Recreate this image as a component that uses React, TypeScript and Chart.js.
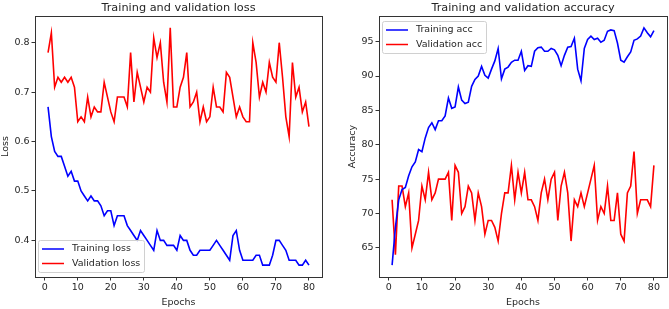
import React, { useEffect, useRef } from 'react';
import { Chart, registerables } from 'chart.js';
Chart.register(...registerables);

const epochs = Array.from({ length: 80 }, (_, i) => i + 1);

const trainingLoss = [
  0.67, 0.61, 0.58, 0.57, 0.57, 0.55, 0.53, 0.54, 0.52, 0.52,
  0.50, 0.49, 0.48, 0.49, 0.48, 0.48, 0.47, 0.45, 0.46, 0.46,
  0.43, 0.45, 0.45, 0.45, 0.43, 0.42, 0.41, 0.40, 0.42, 0.41,
  0.40, 0.39, 0.38, 0.42, 0.40, 0.40, 0.39, 0.39, 0.39, 0.38,
  0.41, 0.40, 0.40, 0.38, 0.37, 0.37, 0.38, 0.38, 0.38, 0.38,
  0.39, 0.40, 0.39, 0.38, 0.37, 0.36, 0.41, 0.42, 0.38, 0.36,
  0.36, 0.36, 0.36, 0.37, 0.37, 0.35, 0.35, 0.35, 0.37, 0.40,
  0.40, 0.39, 0.38, 0.36, 0.36, 0.36, 0.35, 0.35, 0.36, 0.35,
];

const validationLoss = [
  0.78, 0.82, 0.71, 0.73, 0.72, 0.73, 0.72, 0.73, 0.71, 0.64,
  0.65, 0.64, 0.69, 0.65, 0.67, 0.66, 0.66, 0.72, 0.69, 0.66,
  0.64, 0.69, 0.69, 0.69, 0.67, 0.78, 0.68, 0.74, 0.71, 0.68,
  0.71, 0.70, 0.81, 0.77, 0.80, 0.72, 0.68, 0.83, 0.67, 0.67,
  0.71, 0.73, 0.78, 0.67, 0.68, 0.70, 0.64, 0.67, 0.64, 0.65,
  0.71, 0.67, 0.67, 0.66, 0.74, 0.73, 0.69, 0.65, 0.67, 0.65,
  0.64, 0.64, 0.80, 0.76, 0.69, 0.72, 0.70, 0.76, 0.73, 0.72,
  0.80, 0.73, 0.65, 0.61, 0.76, 0.69, 0.71, 0.66, 0.68, 0.63,
];

const trainingAcc = [
  62.5, 68.0, 72.0, 73.5, 73.8, 75.5, 76.8, 77.5, 79.3, 79.0,
  81.0, 82.5, 83.2, 82.2, 83.5, 83.5, 84.2, 86.8, 85.3, 85.5,
  88.4, 86.5, 86.0, 86.2, 88.5, 89.5, 90.0, 91.4, 90.1, 89.7,
  91.0, 92.2, 94.0, 89.6, 91.0, 91.3, 92.0, 92.3, 92.3, 93.6,
  90.8, 91.5, 91.4, 93.6, 94.1, 94.2, 93.6, 93.6, 94.0, 93.8,
  93.0, 91.5, 93.0, 94.2, 94.3, 95.5, 91.0, 89.3, 94.0, 95.3,
  95.8, 95.3, 95.5, 94.9, 95.2, 96.5, 96.7, 96.6, 94.8, 92.3,
  92.0, 92.8, 93.5, 95.2, 95.4, 95.8, 97.0, 96.3, 95.7, 96.6,
];

const validationAcc = [
  72, 64, 74, 74, 71, 73, 65, 67, 69, 74,
  72, 76, 72, 73, 75, 75, 75, 76, 69, 77,
  76, 70, 71, 74, 73, 69, 73, 71, 67, 69,
  69, 68, 66, 70, 73, 73, 77, 72, 76, 73,
  76, 72, 72, 71, 69, 73, 75, 72, 75, 76,
  69, 74, 76, 73, 66, 72, 71, 73, 71, 73,
  75, 77, 69, 71, 70, 74, 69, 69, 73, 67,
  66, 73, 74, 79, 70, 72, 72, 72, 71, 77,
];

const epochTicks = [0, 10, 20, 30, 40, 50, 60, 70, 80];
const lossTicks = [0.4, 0.5, 0.6, 0.7, 0.8];
const accTicks = [65, 70, 75, 80, 85, 90, 95];

const FONT = 'DejaVu Sans';
const TEXT = '#262626';

type Series = { label: string; data: number[]; color: string };

function makeConfig(opts: {
  title: string;
  yLabel: string;
  series: Series[];
  yTicks: number[];
  yMin: number;
  yMax: number;
  legend: 'lowerLeft' | 'upperLeft';
  yAxisWidth: number;
  yTitlePad: number;
  padRight: number;
  yFmt: (v: number) => string;
}): any {
  const framePlugin = {
    id: 'frame',
    afterDatasetsDraw(chart: any) {
      const { ctx, chartArea: a } = chart;
      ctx.save();
      ctx.strokeStyle = '#333';
      ctx.lineWidth = 1;
      ctx.strokeRect(Math.round(a.left) + 0.5, Math.round(a.top) + 0.5, Math.round(a.right - a.left), Math.round(a.bottom - a.top));
      ctx.restore();
    },
  };
  const titlePlugin = {
    id: 'mtitle',
    afterDraw(chart: any) {
      const { ctx, chartArea: a } = chart;
      ctx.save();
      ctx.font = `11.3px "${FONT}"`;
      ctx.fillStyle = TEXT;
      ctx.textAlign = 'center';
      ctx.textBaseline = 'middle';
      ctx.fillText(opts.title, (a.left + a.right) / 2, a.top - 8);
      ctx.restore();
    },
  };
  const legendPlugin = {
    id: 'mlegend',
    afterDraw(chart: any) {
      const { ctx, chartArea: a } = chart;
      ctx.save();
      ctx.font = `9.5px "${FONT}"`;
      const ds = chart.data.datasets;
      let tw = 0;
      ds.forEach((d: any) => { tw = Math.max(tw, ctx.measureText(d.label).width); });
      const w = Math.round(34 + tw + 4);
      const h = 32;
      const x = Math.round(a.left) + 3;
      const y = opts.legend === 'lowerLeft' ? Math.round(a.bottom) - 5 - h : Math.round(a.top) + 5;
      ctx.fillStyle = 'rgba(255,255,255,0.8)';
      ctx.strokeStyle = '#d0d0d0';
      ctx.lineWidth = 1;
      ctx.beginPath();
      (ctx as any).roundRect(x + 0.5, y + 0.5, w, h, 2);
      ctx.fill();
      ctx.stroke();
      ds.forEach((d: any, i: number) => {
        const ry = y + 9 + i * 14.5;
        ctx.strokeStyle = d.borderColor;
        ctx.lineWidth = 1.5;
        ctx.beginPath();
        ctx.moveTo(x + 4, ry);
        ctx.lineTo(x + 26, ry);
        ctx.stroke();
        ctx.fillStyle = TEXT;
        ctx.textAlign = 'left';
        ctx.textBaseline = 'middle';
        ctx.fillText(d.label, x + 34, ry);
      });
      ctx.restore();
    },
  };
  const tickFont = { family: FONT, size: 9.5 };
  return {
    type: 'line',
    data: {
      datasets: opts.series.map((s) => ({
        label: s.label,
        data: s.data.map((v, i) => ({ x: epochs[i], y: v })),
        borderColor: s.color,
        backgroundColor: s.color,
        borderWidth: 1.6,
        pointRadius: 0,
        fill: false,
        tension: 0,
      })),
    },
    options: {
      animation: false,
      responsive: false,
      devicePixelRatio: 1,
      layout: { padding: { top: 16, right: opts.padRight, left: 0, bottom: 0 } },
      plugins: { legend: { display: false }, title: { display: false }, tooltip: { enabled: false } },
      scales: {
        x: {
          type: 'linear',
          min: -2.95,
          max: 83.95,
          afterBuildTicks: (s: any) => { s.ticks = epochTicks.map((v) => ({ value: v })); },
          afterFit: (s: any) => { s.height = 32; },
          ticks: { font: tickFont, color: TEXT, padding: 1, maxRotation: 0, autoSkip: false, callback: (v: any) => String(v) },
          grid: { drawOnChartArea: false, drawTicks: true, tickLength: 3.5, color: '#333', tickWidth: 1 },
          border: { display: false },
          title: { display: true, text: 'Epochs', font: tickFont, color: TEXT, padding: { top: 0, bottom: 1 } },
        },
        y: {
          type: 'linear',
          min: opts.yMin,
          max: opts.yMax,
          afterBuildTicks: (s: any) => { s.ticks = opts.yTicks.map((v) => ({ value: v })); },
          afterFit: (s: any) => { s.width = opts.yAxisWidth; },
          ticks: { font: tickFont, color: TEXT, padding: 2, autoSkip: false, callback: (v: any) => opts.yFmt(Number(v)) },
          grid: { drawOnChartArea: false, drawTicks: true, tickLength: 3.5, color: '#333', tickWidth: 1 },
          border: { display: false },
          title: { display: true, text: opts.yLabel, font: tickFont, color: TEXT, padding: { top: opts.yTitlePad, bottom: 0 } },
        },
      },
    },
    plugins: [framePlugin, titlePlugin, legendPlugin],
  };
}

function ChartCanvas({ config, width, height }: { config: any; width: number; height: number }) {
  const ref = useRef<HTMLCanvasElement | null>(null);
  useEffect(() => {
    if (!ref.current) return;
    const c = new Chart(ref.current, config);
    return () => c.destroy();
  }, [config]);
  return <canvas ref={ref} width={width} height={height} style={{ width, height, display: 'block' }} />;
}

const lossConfig = makeConfig({
  title: 'Training and validation loss',
  yLabel: 'Loss',
  series: [
    { label: 'Training loss', data: trainingLoss, color: '#0000ff' },
    { label: 'Validation loss', data: validationLoss, color: '#ff0000' },
  ],
  yTicks: lossTicks,
  yMin: 0.326,
  yMax: 0.854,
  legend: 'lowerLeft',
  yAxisWidth: 35,
  yTitlePad: 0,
  padRight: 12,
  yFmt: (v) => v.toFixed(1),
});

const accConfig = makeConfig({
  title: 'Training and validation accuracy',
  yLabel: 'Accuracy',
  series: [
    { label: 'Training acc', data: trainingAcc, color: '#0000ff' },
    { label: 'Validation acc', data: validationAcc, color: '#ff0000' },
  ],
  yTicks: accTicks,
  yMin: 60.775,
  yMax: 98.725,
  legend: 'upperLeft',
  yAxisWidth: 45,
  yTitlePad: 13,
  padRight: 2,
  yFmt: (v) => String(Math.round(v)),
});

export default function App() {
  return (
    <div style={{ position: 'fixed', left: 0, top: 0, width: 669, height: 309, background: '#fff', overflow: 'hidden' }}>
      <div style={{ position: 'absolute', left: 0, top: 0 }}>
        <ChartCanvas config={lossConfig} width={334} height={309} />
      </div>
      <div style={{ position: 'absolute', left: 334, top: 0 }}>
        <ChartCanvas config={accConfig} width={335} height={309} />
      </div>
    </div>
  );
}
